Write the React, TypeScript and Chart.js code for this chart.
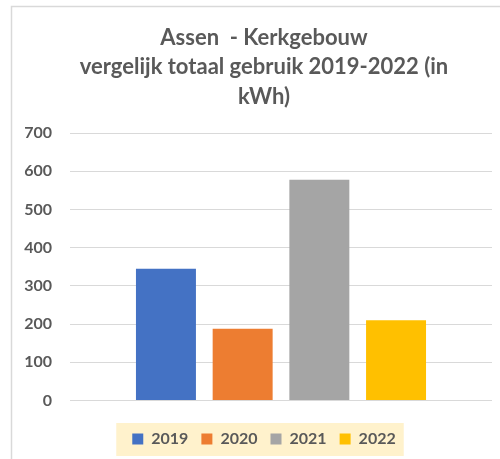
import React, { useEffect, useRef } from "react";
import { Chart, registerables } from "chart.js";

Chart.register(...registerables);

const categories = [""];
const seriesLabels = ["2019", "2020", "2021", "2022"];
const seriesValues = [345, 188, 578, 210];
const seriesColors = ["#4472C4", "#ED7D31", "#A5A5A5", "#FFC000"];
const titleLines = ["Assen  - Kerkgebouw", "vergelijk totaal gebruik 2019-2022 (in", "kWh)"];
const yMin = 0;
const yMax = 700;
const yStep = 100;

const FONT = "Lato, 'Open Sans', sans-serif";
const TEXT = "#595959";

const decorPlugin = {
  id: "decor",
  beforeDraw(chart: any) {
    const ctx = chart.ctx;
    ctx.save();
    ctx.fillStyle = "#ffffff";
    ctx.fillRect(0, 0, chart.width, chart.height);
    ctx.strokeStyle = "#D9D9D9";
    ctx.lineWidth = 1.5;
    ctx.strokeRect(11.5, 6.5, chart.width + 40, chart.height + 40);
    const boxes = chart.legend && chart.legend.legendHitBoxes;
    if (boxes && boxes.length) {
      let l = Infinity, r = -Infinity, t = Infinity, b = -Infinity;
      boxes.forEach((h: any) => {
        l = Math.min(l, h.left);
        r = Math.max(r, h.left + h.width);
        t = Math.min(t, h.top);
        b = Math.max(b, h.top + h.height);
      });
      const cy = (t + b) / 2;
      ctx.fillStyle = "#FFF2CC";
      ctx.fillRect(l - 16, cy - 16, r - l + 24, 33);
    }
    ctx.restore();
  },
};

export default function App() {
  const ref = useRef<HTMLCanvasElement | null>(null);
  useEffect(() => {
    if (!ref.current) return;
    const chart = new Chart(ref.current, {
      type: "bar",
      data: {
        labels: categories,
        datasets: seriesLabels.map((lab, i) => ({
          label: lab,
          data: [seriesValues[i]],
          backgroundColor: seriesColors[i],
          borderWidth: 0,
          categoryPercentage: 0.727,
          barPercentage: 0.782,
        })),
      },
      options: {
        responsive: false,
        animation: false,
        layout: { padding: { left: 0, right: 0, top: 0, bottom: 2 } },
        plugins: {
          title: {
            display: true,
            text: titleLines,
            color: TEXT,
            font: { family: FONT, size: 22, weight: "bold", lineHeight: 1.341 },
            padding: { top: 23, bottom: 21.5 },
          },
          legend: {
            display: true,
            position: "bottom",
            labels: {
              color: TEXT,
              font: { family: FONT, size: 16, weight: "bold" },
              boxWidth: 11,
              boxHeight: 11,
              padding: 13,
            },
          },
          tooltip: { enabled: false },
        },
        scales: {
          x: {
            display: true,
            grid: { display: false, drawTicks: false },
            border: { display: false },
            ticks: { display: false },
            afterFit: (s: any) => {
              s.height = 17.5;
            },
          },
          y: {
            min: yMin,
            max: yMax,
            ticks: {
              stepSize: yStep,
              color: TEXT,
              padding: 18,
              font: { family: FONT, size: 16, weight: "bold" },
            },
            grid: { color: "#D9D9D9", lineWidth: 1, drawTicks: false },
            border: { display: false },
            afterFit: (s: any) => {
              s.width = 70;
            },
          },
          y2: {
            type: "linear",
            position: "right",
            display: true,
            grid: { display: false, drawTicks: false },
            border: { display: false },
            ticks: { display: false },
            afterFit: (s: any) => {
              s.width = 36;
            },
          },
        },
      } as any,
      plugins: [decorPlugin],
    });
    return () => chart.destroy();
  }, []);
  return (
    <div style={{ position: "absolute", left: 0, top: 0, width: 500, height: 459, overflow: "hidden" }}>
      <canvas ref={ref} width={528} height={459} style={{ display: "block" }} />
    </div>
  );
}
